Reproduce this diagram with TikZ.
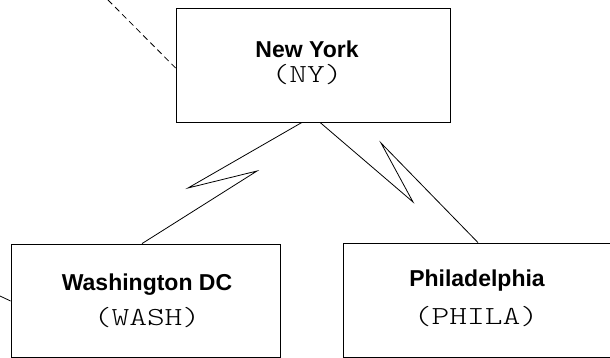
\documentclass[tikz,border=0pt]{standalone}
\usepackage{fontspec}
\setmainfont{Liberation Sans}
\setmonofont{lmmonolt10-regular.otf}[FakeStretch=1.3]
\begin{document}
\begin{tikzpicture}[x=1pt,y=-1pt,
  line width=0.8pt,
  citybox/.style={draw, rectangle, inner sep=0pt},
  cityname/.style={font=\fontsize{23}{27}\selectfont\bfseries, inner sep=0pt},
  citycode/.style={font=\fontsize{26}{29}\selectfont\ttfamily, inner sep=0pt},
  linkline/.style={line join=miter},
  feedline/.style={dash pattern=on 6pt off 4pt}]
\useasboundingbox (0,0) rectangle (610,358);

% city boxes
\node[citybox, minimum width=274pt, minimum height=114pt] (ny) at (313,65) {};
\node[citybox, minimum width=269pt, minimum height=113pt] (wash) at (145.5,300.5) {};
\node[citybox, minimum width=268pt, minimum height=114pt] (phila) at (477,300) {};

% labels
\node[cityname] (nyname) at (307,49) {New York};
\node[citycode] (nycode) at (307,75) {(NY)};
\node[cityname] (washname) at (147,285) {Washington DC};
\node[citycode] (washcode) at (147,318) {(WASH)};
\node[cityname] (philaname) at (477,281) {Philadelphia};
\node[citycode] (philacode) at (476,317) {(PHILA)};

% zigzag links
\coordinate (wl1) at (188,188);
\coordinate (wl2) at (257,171);
\draw[linkline] ([xshift=-11pt]ny.south) -- (wl1) -- (wl2) -- ([xshift=-3.5pt]wash.north);
\coordinate (pl1) at (413,202);
\coordinate (pl2) at (381,143);
\draw[linkline] ([xshift=7pt]ny.south) -- (pl1) -- (pl2) -- ([xshift=1pt]phila.north);

% incoming lines
\coordinate (feedny) at (108,0);
\draw[feedline] (feedny) -- ([yshift=-3pt]ny.west);
\coordinate (feedwash) at (0,296);
\draw (feedwash) -- ([yshift=-0.5pt]wash.west);
\end{tikzpicture}
\end{document}
